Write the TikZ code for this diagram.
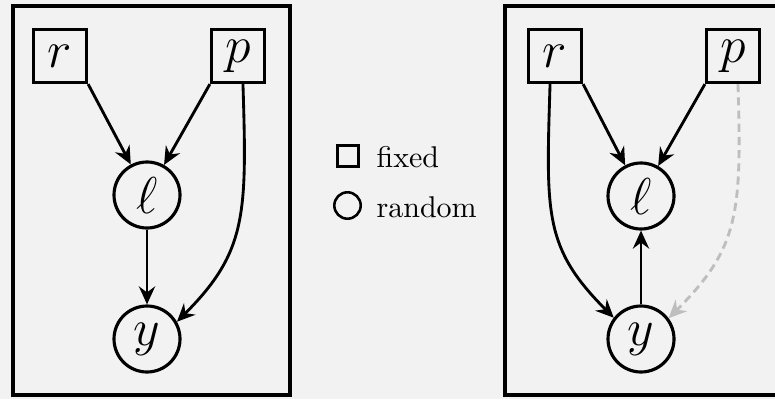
\documentclass[tikz,border=0pt]{standalone}
\usetikzlibrary{arrows.meta}
\definecolor{bg}{RGB}{242,242,242}
\definecolor{ghost}{RGB}{190,190,190}
\begin{document}
\begin{tikzpicture}[x=0.33333pt,y=-0.33333pt,
  fixedbox/.style={draw, line width=1.05pt, minimum size=17.7pt, inner sep=0pt, font=\fontsize{16}{19}\selectfont},
  randnode/.style={circle, draw, line width=1.05pt, minimum size=22pt, inner sep=0pt, font=\fontsize{16}{19}\selectfont},
  edge/.style={line width=0.95pt, -{Stealth[length=6pt,width=5.4pt,inset=2pt]}},
  frame/.style={line width=1.6pt},
  legtext/.style={anchor=base west, inner sep=0pt, font=\fontsize{10}{12}\selectfont},
]
\path[fill=bg] (0,0) rectangle (775,399);
\useasboundingbox (0,0) rectangle (775,399);
% frames
\draw[frame] (13,6) rectangle (290,395);
\draw[frame] (505,6) rectangle (782,395);
% left graph
\node[fixedbox] (r1) at (60,56) {$r$};
\node[fixedbox] (p1) at (238,56) {$p$};
\node[randnode] (l1) at (147,195) {$\ell$};
\node[randnode] (y1) at (147,339) {$y$};
\draw[edge] (r1.south east) -- (l1);
\draw[edge] (p1.south west) -- (l1);
\draw[edge] (l1) -- (y1);
\draw[edge] (p1.-80) .. controls +(4,130) and +(70,-70) .. (y1.30);
% right graph
\node[fixedbox] (r2) at (555,56) {$r$};
\node[fixedbox] (p2) at (733,56) {$p$};
\node[randnode] (l2) at (641,196) {$\ell$};
\node[randnode] (y2) at (641,339) {$y$};
\draw[edge] (r2.south east) -- (l2);
\draw[edge] (p2.south west) -- (l2);
\draw[edge] (y2) -- (l2);
\draw[edge] (r2.-100) .. controls +(-4,130) and +(-70,-70) .. (y2.142);
\draw[edge, ghost, dash pattern=on 2.7pt off 1.7pt] (p2.-80) .. controls +(4,130) and +(70,-70) .. (y2.37);
% legend
\node[draw, line width=0.85pt, minimum size=7pt, inner sep=0pt] (lgsq) at (348,156) {};
\node[circle, draw, line width=0.85pt, minimum size=8.8pt, inner sep=0pt] (lgci) at (347.5,205.5) {};
\node[legtext] (lgfx) at (376,167) {fixed};
\node[legtext] (lgrd) at (376,217) {random};
\end{tikzpicture}
\end{document}
